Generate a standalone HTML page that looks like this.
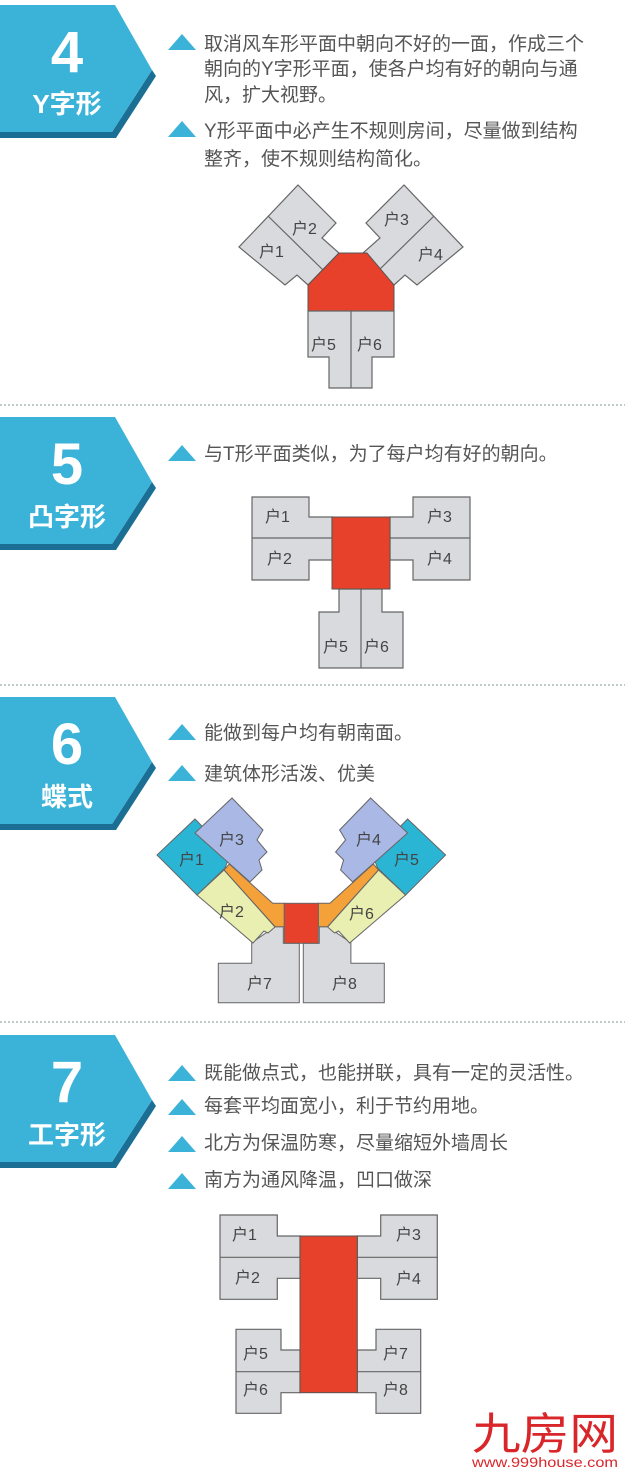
<!DOCTYPE html>
<html><head><meta charset="utf-8"><style>
html,body{margin:0;padding:0;background:#fff;}
svg{display:block;}
text{font-family:"Liberation Sans","Noto Sans CJK SC",sans-serif;}
.t{font-size:19px;fill:#555;}
.u{font-size:16px;fill:#444;}
.num{font-size:58px;font-weight:bold;fill:#fff;text-anchor:middle;}
.lab{font-size:26px;font-weight:bold;fill:#fff;text-anchor:middle;}
.g{fill:#d9dadd;stroke:#666;stroke-width:1.2;}
.r{fill:#e8412b;stroke:#555;stroke-width:1;}
.tri{fill:#3bb3d9;}
.dash{stroke:#9aa;stroke-width:1.3;stroke-dasharray:2,2;}
</style></head><body>
<svg width="625" height="1474" viewBox="0 0 625 1474" xmlns="http://www.w3.org/2000/svg">
<defs>
<g id="badge">
<polygon points="0,127 112,127 152,65 156,71 116,133 0,133" fill="#1b6f94"/>
<polygon points="0,0 115,0 152,65 112,127 0,127" fill="#3bb3d9"/>
</g>
<polygon id="tri" points="168,46 182,30 196,46"/>
</defs>

<!-- Section 4 -->
<use href="#badge" x="0" y="5"/>
<text class="num" x="67" y="72">4</text>
<text class="lab" x="67" y="113">Y字形</text>
<use href="#tri" class="tri" y="4"/>
<text class="t" x="204" y="50">取消风车形平面中朝向不好的一面，作成三个</text>
<text class="t" x="204" y="75">朝向的Y字形平面，使各户均有好的朝向与通</text>
<text class="t" x="204" y="101">风，扩大视野。</text>
<use href="#tri" class="tri" y="91"/>
<text class="t" x="204" y="137">Y形平面中必产生不规则房间，尽量做到结构</text>
<text class="t" x="204" y="165">整齐，使不规则结构简化。</text>

<polygon class="g" points="298,185 336,223 322,238 339,253 308,285 297,275 285,285 239,247"/>
<line x1="268" y1="216" x2="323" y2="270" stroke="#666" stroke-width="1.2"/>
<polygon class="g" points="404,185 366,223 380,238 363,253 394,285 405,275 417,285 463,247"/>
<line x1="434" y1="216" x2="379" y2="270" stroke="#666" stroke-width="1.2"/>
<polygon class="r" points="339,253 367,253 394,285 394,311 308,311 308,285"/>
<polygon class="g" points="308,311 394,311 394,357 372,357 372,388 329,388 329,357 308,357"/>
<line x1="351" y1="311" x2="351" y2="388" stroke="#666" stroke-width="1.2"/>
<text class="u" x="292" y="234">户2</text>
<text class="u" x="259" y="257">户1</text>
<text class="u" x="384" y="225">户3</text>
<text class="u" x="418" y="260">户4</text>
<text class="u" x="311" y="350">户5</text>
<text class="u" x="357" y="350">户6</text>

<line class="dash" x1="0" y1="405" x2="625" y2="405"/>

<!-- Section 5 -->
<use href="#badge" x="0" y="417"/>
<text class="num" x="67" y="484">5</text>
<text class="lab" x="67" y="526">凸字形</text>
<use href="#tri" class="tri" y="415"/>
<text class="t" x="204" y="460">与T形平面类似，为了每户均有好的朝向。</text>

<polygon class="g" points="252,497 309,497 309,517 332,517 332,560 309,560 309,580 252,580"/>
<line x1="252" y1="538" x2="332" y2="538" stroke="#666" stroke-width="1.2"/>
<polygon class="g" points="470,497 413,497 413,517 390,517 390,560 413,560 413,580 470,580"/>
<line x1="470" y1="538" x2="390" y2="538" stroke="#666" stroke-width="1.2"/>
<polygon class="g" points="339,589 382,589 382,612 403,612 403,668 319,668 319,612 339,612"/>
<line x1="361" y1="589" x2="361" y2="668" stroke="#666" stroke-width="1.2"/>
<rect class="r" x="332" y="517" width="58" height="72"/>
<text class="u" x="265" y="522">户1</text>
<text class="u" x="267" y="564">户2</text>
<text class="u" x="427" y="522">户3</text>
<text class="u" x="427" y="564">户4</text>
<text class="u" x="323" y="652">户5</text>
<text class="u" x="364" y="652">户6</text>

<line class="dash" x1="0" y1="685" x2="625" y2="685"/>

<!-- Section 6 -->
<use href="#badge" x="0" y="697"/>
<text class="num" x="67" y="764">6</text>
<text class="lab" x="67" y="806">蝶式</text>
<use href="#tri" class="tri" y="694"/>
<text class="t" x="204" y="739">能做到每户均有朝南面。</text>
<use href="#tri" class="tri" y="735"/>
<text class="t" x="204" y="780">建筑体形活泼、优美</text>

<g stroke="#666" stroke-width="1">
<polygon fill="#d9dadd" points="251.7,942.7 275,926.7 283.3,926.7 283.3,943.3 299.3,943.3 299.3,1002.7 218.3,1002.7 218.3,963.3 251.7,963.3"/>
<polygon fill="#d9dadd" points="350.9,942.7 327.6,926.7 319.3,926.7 319.3,943.3 303.3,943.3 303.3,1002.7 384.3,1002.7 384.3,963.3 350.9,963.3"/>
<polygon fill="#f4a13a" points="229.3,864 272.7,903.3 284.3,903.3 284.3,926.7 275,926.7 224,870"/>
<polygon fill="#f4a13a" points="373.3,864 329.9,903.3 318.3,903.3 318.3,926.7 327.6,926.7 378.6,870"/>
<polygon fill="#e8efb0" points="224,870 275,927 268,933 264,931 253,943 197,895"/>
<polygon fill="#e8efb0" points="378.6,870 327.6,927 334.6,933 338.6,931 349.6,943 405.6,895"/>
<polygon fill="#2bb5d5" points="157,855 195,819 230,855 225,868 197,895"/>
<polygon fill="#2bb5d5" points="445.6,855 407.6,819 372.6,855 377.6,868 405.6,895"/>
<polygon fill="#a9b8e4" points="195,833 232,798 263,830 257,840 267,852 259,860 262,870 250,882"/>
<polygon fill="#a9b8e4" points="407.6,833 370.6,798 339.6,830 345.6,840 335.6,852 343.6,860 340.6,870 352.6,882"/>
<rect fill="#e8412b" x="284.3" y="903.3" width="34" height="40"/>
</g>
<text class="u" x="179" y="865">户1</text>
<text class="u" x="219" y="845">户3</text>
<text class="u" x="219" y="917">户2</text>
<text class="u" x="247" y="989">户7</text>
<text class="u" x="356" y="845">户4</text>
<text class="u" x="394" y="865">户5</text>
<text class="u" x="349" y="919">户6</text>
<text class="u" x="332" y="989">户8</text>

<line class="dash" x1="0" y1="1022" x2="625" y2="1022"/>

<!-- Section 7 -->
<use href="#badge" x="0" y="1035"/>
<text class="num" x="67" y="1102">7</text>
<text class="lab" x="67" y="1144">工字形</text>
<use href="#tri" class="tri" y="1035"/>
<text class="t" x="204" y="1079">既能做点式，也能拼联，具有一定的灵活性。</text>
<use href="#tri" class="tri" y="1069"/>
<text class="t" x="204" y="1112">每套平均面宽小，利于节约用地。</text>
<use href="#tri" class="tri" y="1106"/>
<text class="t" x="204" y="1149">北方为保温防寒，尽量缩短外墙周长</text>
<use href="#tri" class="tri" y="1143"/>
<text class="t" x="204" y="1186">南方为通风降温，凹口做深</text>

<polygon class="g" points="220,1215 277.3,1215 277.3,1236 300,1236 300,1278.3 277.3,1278.3 277.3,1299.3 220,1299.3"/>
<line x1="220" y1="1257.3" x2="300" y2="1257.3" stroke="#666" stroke-width="1.2"/>
<polygon class="g" points="437.3,1215 380.7,1215 380.7,1236 357.3,1236 357.3,1278.3 380.7,1278.3 380.7,1299.3 437.3,1299.3"/>
<line x1="437.3" y1="1257.3" x2="357.3" y2="1257.3" stroke="#666" stroke-width="1.2"/>
<polygon class="g" points="236,1329.3 281,1329.3 281,1350 300,1350 300,1392.7 281,1392.7 281,1413.3 236,1413.3"/>
<line x1="236" y1="1371.7" x2="300" y2="1371.7" stroke="#666" stroke-width="1.2"/>
<polygon class="g" points="420.7,1329.3 376,1329.3 376,1350 357.3,1350 357.3,1392.7 376,1392.7 376,1413.3 420.7,1413.3"/>
<line x1="420.7" y1="1371.7" x2="357.3" y2="1371.7" stroke="#666" stroke-width="1.2"/>
<rect class="r" x="300" y="1236" width="57.3" height="156.7"/>
<text class="u" x="232" y="1240">户1</text>
<text class="u" x="235" y="1283">户2</text>
<text class="u" x="396" y="1240">户3</text>
<text class="u" x="396" y="1284">户4</text>
<text class="u" x="243" y="1359">户5</text>
<text class="u" x="243" y="1395">户6</text>
<text class="u" x="383" y="1359">户7</text>
<text class="u" x="383" y="1395">户8</text>

<!-- Logo -->
<text x="545" y="1449" text-anchor="middle" font-size="44" fill="#d9262a" style="font-family:'Noto Sans CJK SC',sans-serif" textLength="146" lengthAdjust="spacingAndGlyphs">九房网</text>
<text x="545" y="1467" text-anchor="middle" font-size="14" fill="#d9262a" textLength="146" lengthAdjust="spacingAndGlyphs">www.999house.com</text>
</svg>
</body></html>
